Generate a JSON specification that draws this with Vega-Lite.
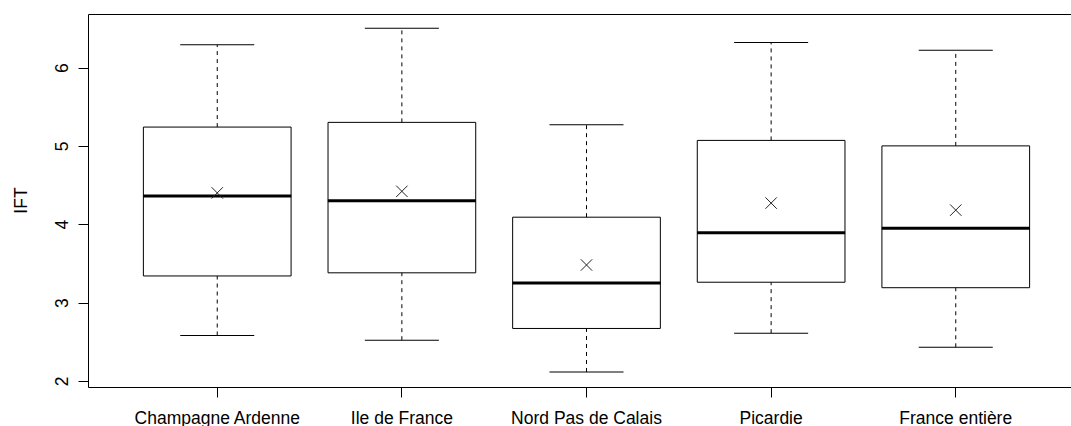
{
  "$schema": "https://vega.github.io/schema/vega-lite/v6.json",
  "autosize": {"type": "none"},
  "width": 983,
  "height": 373,
  "padding": {"left": 88, "top": 14, "right": 0, "bottom": 39},
  "background": "white",
  "config": {
    "view": {"stroke": null},
    "font": "Liberation Sans",
    "axis": {
      "grid": false,
      "labelFont": "Liberation Sans",
      "labelFontSize": 17.5,
      "labelColor": "black",
      "domainColor": "black",
      "tickColor": "black",
      "titleFont": "Liberation Sans",
      "titleFontSize": 17.5,
      "titleFontWeight": "normal",
      "titleColor": "black"
    }
  },
  "data": {
    "values": [
      {"region": "Champagne Ardenne", "lower": 2.58, "q1": 3.34, "median": 4.36, "q3": 5.24, "upper": 6.29, "mean": 4.40},
      {"region": "Ile de France", "lower": 2.52, "q1": 3.38, "median": 4.30, "q3": 5.30, "upper": 6.50, "mean": 4.42},
      {"region": "Nord Pas de Calais", "lower": 2.115, "q1": 2.67, "median": 3.25, "q3": 4.09, "upper": 5.27, "mean": 3.48},
      {"region": "Picardie", "lower": 2.61, "q1": 3.26, "median": 3.89, "q3": 5.07, "upper": 6.32, "mean": 4.27},
      {"region": "France entière", "lower": 2.43, "q1": 3.19, "median": 3.95, "q3": 5.00, "upper": 6.22, "mean": 4.18}
    ]
  },
  "layer": [
    {
      "mark": {"type": "bar", "fill": "white", "stroke": "black", "strokeWidth": 1, "opacity": 1},
      "encoding": {
        "x": {"field": "region", "type": "nominal", "sort": null,
              "scale": {"range": [0, 997], "paddingInner": 0.2, "paddingOuter": 0.3},
              "axis": {"orient": "bottom", "title": null, "labelAngle": 0, "tickSize": 10,
                       "labelPadding": 26, "labelBaseline": "alphabetic", "bandPosition": 0.5}},
        "y": {"field": "q1", "type": "quantitative",
              "scale": {"domain": [1.923, 6.683], "nice": false, "zero": false},
              "axis": {"orient": "left", "title": "IFT", "values": [2, 3, 4, 5, 6], "format": "d", "tickSize": 10,
                       "labelAngle": 270, "labelAlign": "center", "labelBaseline": "alphabetic",
                       "labelPadding": 11, "titleAngle": 270, "titleX": -62, "titleY": 186,
                       "titleBaseline": "alphabetic", "titleAlign": "center"}},
        "y2": {"field": "q3"}
      }
    },
    {
      "mark": {"type": "rule", "color": "black", "strokeWidth": 1, "strokeDash": [4, 4], "opacity": 1},
      "encoding": {
        "x": {"field": "region", "type": "nominal", "sort": null, "axis": null},
        "y": {"field": "q3", "type": "quantitative", "axis": null},
        "y2": {"field": "upper"}
      }
    },
    {
      "mark": {"type": "rule", "color": "black", "strokeWidth": 1, "strokeDash": [4, 4], "opacity": 1},
      "encoding": {
        "x": {"field": "region", "type": "nominal", "sort": null, "axis": null},
        "y": {"field": "lower", "type": "quantitative", "axis": null},
        "y2": {"field": "q1"}
      }
    },
    {
      "mark": {"type": "tick", "color": "black", "size": 74, "thickness": 1, "opacity": 1},
      "encoding": {
        "x": {"field": "region", "type": "nominal", "sort": null, "axis": null},
        "y": {"field": "upper", "type": "quantitative", "axis": null}
      }
    },
    {
      "mark": {"type": "tick", "color": "black", "size": 74, "thickness": 1, "opacity": 1},
      "encoding": {
        "x": {"field": "region", "type": "nominal", "sort": null, "axis": null},
        "y": {"field": "lower", "type": "quantitative", "axis": null}
      }
    },
    {
      "mark": {"type": "tick", "color": "black", "size": 148, "thickness": 3, "opacity": 1},
      "encoding": {
        "x": {"field": "region", "type": "nominal", "sort": null,
              "axis": {"orient": "top", "labels": false, "ticks": false, "title": null, "domain": true}},
        "y": {"field": "median", "type": "quantitative", "axis": null}
      }
    },
    {
      "mark": {"type": "point", "shape": "M-1,-1L1,1M-1,1L1,-1", "filled": false, "size": 130,
               "stroke": "#222222", "strokeWidth": 1, "opacity": 1},
      "encoding": {
        "x": {"field": "region", "type": "nominal", "sort": null, "axis": null},
        "y": {"field": "mean", "type": "quantitative", "axis": null}
      }
    }
  ],
  "resolve": {"axis": {"x": "independent", "y": "independent"}}
}
